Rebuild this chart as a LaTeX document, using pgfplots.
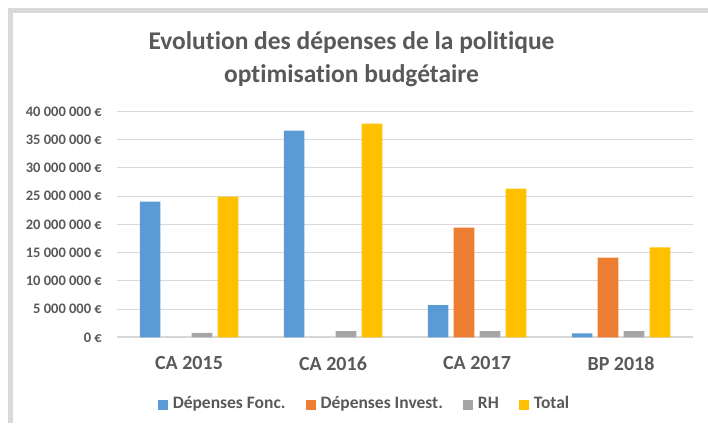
\documentclass[border=0pt]{standalone}
\usepackage{fontspec}
\setmainfont{Carlito}[Ligatures=NoCommon]
\usepackage{pgfplots}
\pgfplotsset{compat=1.18}
\definecolor{fonc}{HTML}{5B9BD5}
\definecolor{invest}{HTML}{ED7D31}
\definecolor{rh}{HTML}{A5A5A5}
\definecolor{total}{HTML}{FFC000}
\definecolor{txt}{HTML}{595959}
\definecolor{gridc}{HTML}{D9D9D9}
\begin{document}
\begin{tikzpicture}
\path[use as bounding box] (0pt,0pt) rectangle (708pt,423pt);
\draw[color=gridc, line width=5pt] (10.5pt,0pt) -- (10.5pt,412.5pt) -- (708pt,412.5pt);
\node[anchor=base, inner sep=0pt, font=\bfseries\fontsize{25.5}{30}\selectfont, text=txt] at (351.5pt,373pt) {Evolution des dépenses de la politique};
\node[anchor=base, inner sep=0pt, font=\bfseries\fontsize{25.5}{30}\selectfont, text=txt] at (351.5pt,340.5pt) {optimisation budgétaire};
\begin{axis}[
  at={(117pt,85.7pt)}, anchor=south west,
  scale only axis, width=576pt, height=226pt,
  xmin=-0.5, xmax=3.5, ymin=0, ymax=40000000,
  scaled y ticks=false,
  axis x line*=bottom, axis y line*=left,
  y axis line style={draw=none},
  x axis line style={draw=gridc, line width=1.8pt, -},
  major tick length=0pt, tick style={draw=none},
  xtick={0,1,2,3},
  xticklabels={CA 2015,CA 2016,CA 2017,BP 2018},
  xticklabel style={font=\bfseries\fontsize{20}{24}\selectfont, text=txt, anchor=north, inner sep=0pt, yshift=-19pt},
  ytick={0,5000000,10000000,15000000,20000000,25000000,30000000,35000000,40000000},
  yticklabels={0 €,5 000 000 €,10 000 000 €,15 000 000 €,20 000 000 €,25 000 000 €,30 000 000 €,35 000 000 €,40 000 000 €},
  yticklabel style={font=\bfseries\fontsize{14.5}{17}\selectfont, text=txt, anchor=east, inner sep=0pt, xshift=-15pt},
  ymajorgrids, grid style={draw=gridc, line width=0.9pt},
  legend columns=4,
  legend style={at={(0.4297,-0.299)}, anchor=center, draw=none, fill=none,
    font=\bfseries\fontsize{17.5}{21}\selectfont, text=txt,
    nodes={text height=12pt, text depth=4pt},
    /tikz/every even column/.append style={column sep=18pt}},
  legend image code/.code={\fill[#1] (0pt,-5pt) rectangle (10pt,5pt); \path (0pt,0pt) -- (13pt,0pt);},
]
\addplot[ybar, bar width=0.144, bar shift=-0.27, fill=fonc, draw=none] coordinates {(0,24000000) (1,36600000) (2,5700000) (3,700000)};
\addlegendentry{Dépenses Fonc.}
\addplot[ybar, bar width=0.144, bar shift=-0.09, fill=invest, draw=none] coordinates {(0,0) (1,0) (2,19400000) (3,14100000)};
\addlegendentry{Dépenses Invest.}
\addplot[ybar, bar width=0.144, bar shift=0.09, fill=rh, draw=none] coordinates {(0,800000) (1,1100000) (2,1100000) (3,1100000)};
\addlegendentry{RH}
\addplot[ybar, bar width=0.144, bar shift=0.27, fill=total, draw=none] coordinates {(0,24900000) (1,37800000) (2,26300000) (3,15900000)};
\addlegendentry{Total}
\end{axis}
\end{tikzpicture}
\end{document}
